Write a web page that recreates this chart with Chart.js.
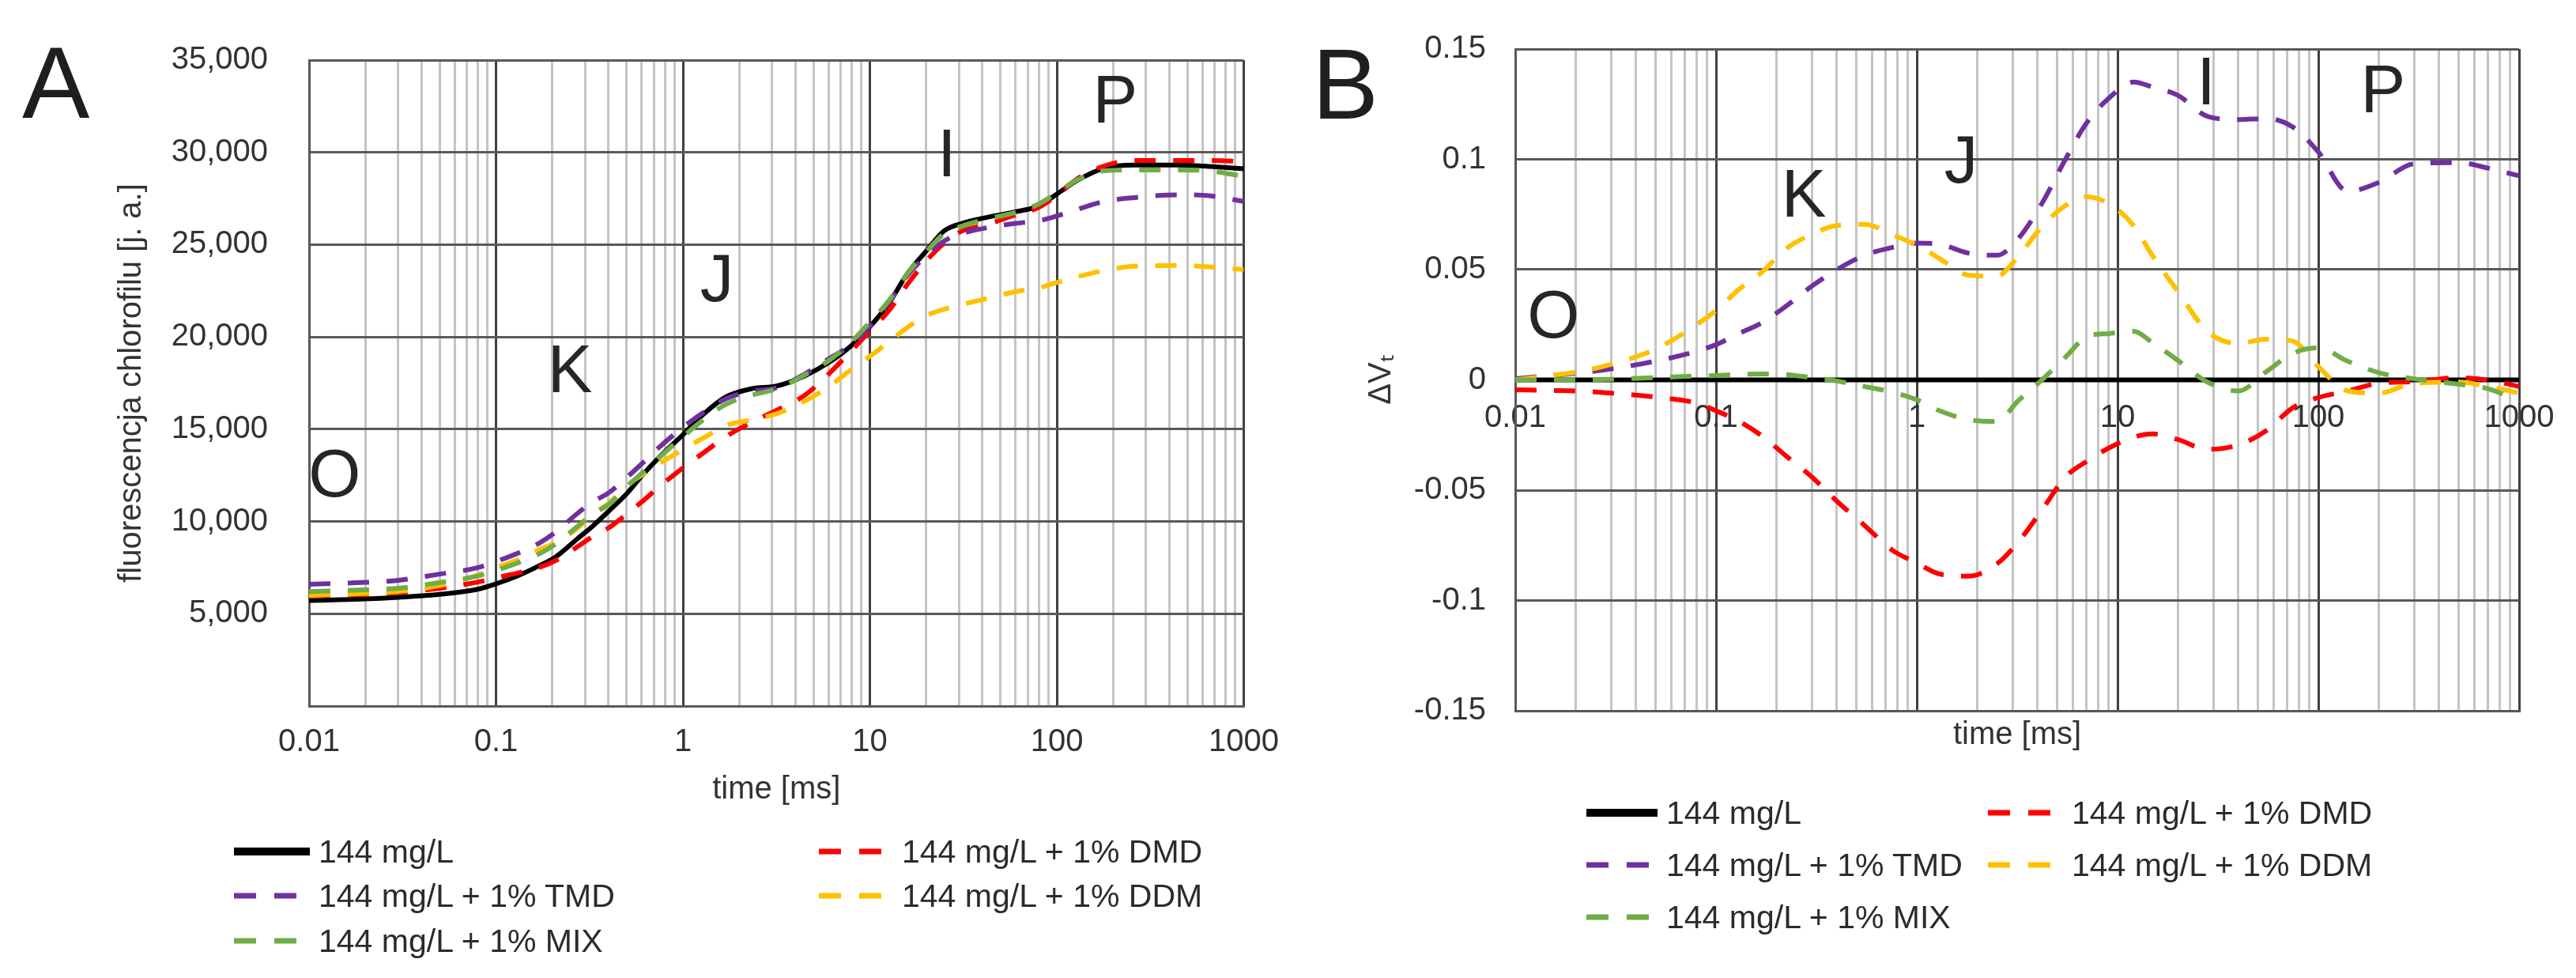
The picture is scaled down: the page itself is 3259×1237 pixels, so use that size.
<!DOCTYPE html>
<html>
<head>
<meta charset="utf-8">
<script src="https://cdn.jsdelivr.net/npm/chart.js@4.4.1/dist/chart.umd.min.js"></script>
<style>
  html, body { margin: 0; padding: 0; background: #fff; }
  #page { position: relative; width: 3259px; height: 1237px; overflow: hidden; font-family: "Liberation Sans", Arial, sans-serif; color: #333; }
  #page canvas { position: absolute; top: 0; }
  .panel { position: absolute; line-height: 1; color: #1f1f1f; }
  .leg { position: absolute; display: flex; align-items: center; height: 50px; font-size: 41px; white-space: nowrap; color: #2b2b2b; }
  .leg svg { flex: none; margin-right: 11px; }
</style>
</head>
<body>
<div id="page">
  <canvas id="graficoA" width="1640" height="1237" style="left:0"></canvas>
  <canvas id="graficoB" width="1609" height="1237" style="left:1650px"></canvas>
  <div class="panel" style="left:28px; top:41px; font-size:128px">A</div>
  <div class="panel" style="left:1660px; top:44px; font-size:126px">B</div>
</div>
<script>
// ---- datos ----
const series = ["144 mg/L", "144 mg/L + 1% DMD", "144 mg/L + 1% TMD", "144 mg/L + 1% DDM", "144 mg/L + 1% MIX"];
const colores = ["#000000", "#FF0000", "#7030A0", "#FFC000", "#70AD47"];

// panel A: fluorescencja [j. a.] vs time [ms]
const tiempoA = [0.01, 0.02, 0.03, 0.05, 0.08, 0.1, 0.13, 0.17, 0.21, 0.27, 0.33, 0.4, 0.5, 0.6, 0.75, 1, 1.3, 1.7, 2.3, 3.2,
  4.5, 6, 8, 10, 12.7, 15.8, 20, 25, 31, 41, 60, 80, 100, 128, 180, 260, 450, 650, 1000];
const controlA = [5720, 5800, 5890, 6050, 6330, 6620, 7050, 7600, 8100, 9030, 9760, 10550, 11500, 12450, 13500, 14700, 15850, 16750, 17180, 17350,
  17900, 18600, 19550, 20550, 21850, 23400, 24650, 25750, 26150, 26450, 26780, 27100, 27740, 28470, 29150, 29310, 29310, 29240, 29110];
const dmdA = [5970, 6050, 6150, 6380, 6720, 6950, 7200, 7500, 7900, 8600, 9200, 9650, 10400, 11050, 11900, 12900, 13750, 14600, 15350, 16050,
  16850, 17980, 19270, 20320, 21450, 22820, 24110, 25080, 25730, 26050, 26610, 27020, 27660, 28550, 29270, 29560, 29560, 29560, 29500];
const tmdA = [6600, 6700, 6810, 7150, 7500, 7830, 8270, 8820, 9450, 10400, 11060, 11550, 12380, 13110, 14040, 15100, 15940, 16650, 17050, 17250,
  18000, 18800, 19600, 20600, 21900, 23300, 24400, 25200, 25600, 25890, 26150, 26290, 26550, 26900, 27340, 27550, 27700, 27650, 27340];
const ddmA = [6000, 6100, 6210, 6530, 7100, 7500, 7900, 8470, 8870, 9600, 10400, 10970, 11940, 12500, 13150, 13900, 14550, 15200, 15500, 15850,
  16530, 17300, 18250, 18950, 19750, 20500, 21150, 21500, 21750, 22050, 22450, 22660, 22950, 23250, 23600, 23830, 23870, 23800, 23650];
const mixA = [6200, 6300, 6380, 6690, 7050, 7350, 7750, 8240, 8800, 9700, 10400, 10920, 11870, 12600, 13480, 14600, 15550, 16350, 16830, 17200,
  17950, 18700, 19750, 20800, 22000, 23400, 24600, 25600, 26000, 26350, 26750, 27200, 27800, 28500, 29000, 29050, 29050, 29000, 28700];

// panel B: delta Vt vs time [ms]
const tiempoB = [0.01, 0.015, 0.02, 0.03, 0.05, 0.08, 0.1, 0.13, 0.17, 0.22, 0.3, 0.4, 0.55, 0.75, 1, 1.3, 1.8, 2.5, 3.2,
  4.2, 5.5, 7, 9, 12, 15, 20, 28, 40, 55, 75, 100, 140, 200, 300, 500, 700, 1000];
const controlB = [0, 0, 0, 0, 0, 0, 0, 0, 0, 0, 0, 0, 0, 0, 0, 0, 0, 0, 0,
  0, 0, 0, 0, 0, 0, 0, 0, 0, 0, 0, 0, 0, 0, 0, 0, 0, 0];
const dmdB = [-0.0045, -0.0048, -0.005, -0.006, -0.0078, -0.0105, -0.014, -0.0187, -0.0255, -0.034, -0.044, -0.055, -0.066, -0.077, -0.083, -0.088, -0.089, -0.0835, -0.0735,
  -0.059, -0.044, -0.037, -0.031, -0.026, -0.0245, -0.027, -0.0315, -0.0295, -0.023, -0.0125, -0.008, -0.005, -0.0015, -0.0008, 0.001, 0.0, -0.003];
const tmdB = [0.0005, 0.002, 0.003, 0.005, 0.0085, 0.013, 0.016, 0.021, 0.026, 0.033, 0.0425, 0.05, 0.0565, 0.06, 0.062, 0.0615, 0.0575, 0.0565, 0.064,
  0.08, 0.1, 0.1164, 0.1275, 0.135, 0.1327, 0.129, 0.1195, 0.118, 0.1185, 0.1145, 0.1033, 0.0855, 0.0895, 0.098, 0.0985, 0.096, 0.0925];
const ddmB = [0.0, 0.002, 0.0035, 0.007, 0.014, 0.025, 0.0315, 0.041, 0.049, 0.059, 0.066, 0.07, 0.0705, 0.066, 0.061, 0.055, 0.0475, 0.047, 0.056,
  0.0695, 0.079, 0.083, 0.08, 0.07, 0.056, 0.04, 0.022, 0.0165, 0.0185, 0.0175, 0.006, -0.005, -0.006, -0.0015, -0.001, -0.003, -0.006];
const mixB = [0, 0, 0, 0.0003, 0.001, 0.0018, 0.002, 0.0025, 0.0027, 0.0025, 0.001, -0.0005, -0.003, -0.0055, -0.009, -0.014, -0.018, -0.0188, -0.0095,
  0.0, 0.0103, 0.0195, 0.021, 0.022, 0.0167, 0.0088, -0.001, -0.005, 0.0037, 0.0121, 0.0145, 0.0085, 0.0033, 0.0005, -0.002, -0.004, -0.0098];

// ejes
const decadas = [0.01, 0.1, 1, 10, 100, 1000];
const yTicksA = [0, 5000, 10000, 15000, 20000, 25000, 30000, 35000];
const yLabelsA = ["", "5,000", "10,000", "15,000", "20,000", "25,000", "30,000", "35,000"];
const yTicksB = [-0.15, -0.1, -0.05, 0, 0.05, 0.1, 0.15];
const yLabelsB = ["-0.15", "-0.1", "-0.05", "0", "0.05", "0.1", "0.15"];

// etykiety faz
const fases = ["O", "K", "J", "I", "P"];
const faseTA = [0.0137, 0.249, 1.52, 25.8, 205];
const faseVA = [12340, 18010, 22950, 29720, 32630];
const faseTB = [0.0155, 0.2735, 1.66, 27.6, 210];
const faseVB = [0.0276, 0.0824, 0.0978, 0.1333, 0.1297];

// ---- chart ----
Chart.defaults.font.family = '"Liberation Sans", Arial, sans-serif';
Chart.defaults.color = "#333";

const fuente = { size: 40 };
const ticksLog = [];
decadas.forEach((d) => {
  for (let m = 1; m <= 9; m++) {
    if (d * m <= 1000) ticksLog.push(m === 1 ? d : +(d * m).toPrecision(3));
  }
});
const esDecada = (v) => decadas.includes(v);

const rejillaLog = {
  color: (c) => (c.tick && esDecada(c.tick.value) ? "#404040" : "#c4c4c4"),
  lineWidth: 3,
  drawTicks: false,
};
const borde = { color: "#595959", width: 3 };

const letras = {
  id: "letras",
  afterDraw(chart, args, opts) {
    const { ctx } = chart;
    const x = chart.scales.x, y = chart.scales.y;
    ctx.save();
    ctx.font = '85px "Liberation Sans", Arial, sans-serif';
    ctx.fillStyle = "#262626";
    ctx.textAlign = "center";
    ctx.textBaseline = "middle";
    opts.labels.forEach((txt, i) => {
      ctx.fillText(txt, x.getPixelForValue(opts.t[i]), y.getPixelForValue(opts.v[i]));
    });
    ctx.restore();
  },
};

const datasets = (tiempo, valores) =>
  valores.map((vals, i) => ({
    label: series[i],
    data: tiempo.map((t, k) => ({ x: t, y: vals[k] })),
    borderColor: colores[i],
    backgroundColor: colores[i],
    borderWidth: 6,
    borderDash: i === 0 ? [] : [27, 22],
    pointRadius: 0,
    fill: false,
    cubicInterpolationMode: "monotone",
    order: valores.length - 1 - i,
  }));

const graficoA = new Chart(document.getElementById("graficoA"), {
  type: "line",
  data: { datasets: datasets(tiempoA, [controlA, dmdA, tmdA, ddmA, mixA]) },
  plugins: [letras],
  options: {
    responsive: false,
    animation: false,
    devicePixelRatio: 1,
    layout: { padding: { left: 0, right: 50, top: 65, bottom: 204 } },
    plugins: {
      legend: { display: false },
      tooltip: { enabled: false },
      letras: { labels: fases, t: faseTA, v: faseVA },
    },
    scales: {
      x: {
        type: "logarithmic",
        min: 0.01,
        max: 1000,
        afterBuildTicks: (ax) => { ax.ticks = ticksLog.map((v) => ({ value: v })); },
        afterFit: (ax) => { ax.height = 140; },
        ticks: { autoSkip: false, maxRotation: 0, padding: 22, font: fuente, callback: (v) => (esDecada(v) ? String(v) : "") },
        grid: rejillaLog,
        border: borde,
        title: { display: true, text: "time [ms]", font: fuente, padding: { top: 0, bottom: 10 } },
      },
      y: {
        min: 0,
        max: 35000,
        afterBuildTicks: (ax) => { ax.ticks = yTicksA.map((v) => ({ value: v })); },
        afterFit: (ax) => { ax.width = 391; },
        ticks: { padding: 52, font: fuente, callback: (v, i) => yLabelsA[i] },
        grid: { color: "#595959", lineWidth: 3, drawTicks: false },
        border: borde,
        title: { display: true, text: "fluorescencja chlorofilu [j. a.]", font: fuente, padding: { top: 143, bottom: 0 } },
      },
    },
  },
});

const graficoB = new Chart(document.getElementById("graficoB"), {
  type: "line",
  data: { datasets: datasets(tiempoB, [controlB, dmdB, tmdB, ddmB, mixB]) },
  plugins: [letras],
  options: {
    responsive: false,
    animation: false,
    devicePixelRatio: 1,
    layout: { padding: { left: 0, right: 72, top: 62, bottom: 258 } },
    plugins: {
      legend: { display: false },
      tooltip: { enabled: false },
      letras: { labels: fases, t: faseTB, v: faseVB },
    },
    scales: {
      x: {
        type: "logarithmic",
        min: 0.01,
        max: 1000,
        afterBuildTicks: (ax) => { ax.ticks = ticksLog.map((v) => ({ value: v })); },
        afterFit: (ax) => { ax.height = 80; },
        ticks: { display: false },
        grid: rejillaLog,
        border: borde,
        title: { display: true, text: "time [ms]", font: fuente, padding: { top: 0, bottom: 25 } },
      },
      x2: {
        axis: "x",
        type: "logarithmic",
        position: { y: 0 },
        min: 0.01,
        max: 1000,
        afterBuildTicks: (ax) => { ax.ticks = decadas.map((v) => ({ value: v })); },
        ticks: { autoSkip: false, maxRotation: 0, padding: 24, font: fuente, callback: (v) => String(v) },
        grid: { display: false, drawTicks: false },
        border: { display: false },
      },
      y: {
        min: -0.15,
        max: 0.15,
        afterBuildTicks: (ax) => { ax.ticks = yTicksB.map((v) => ({ value: v })); },
        afterFit: (ax) => { ax.width = 267; },
        ticks: { padding: 37, font: fuente, callback: (v, i) => yLabelsB[i] },
        grid: { color: "#595959", lineWidth: 3, drawTicks: false },
        border: borde,
        title: { display: true, text: "ΔVₜ", font: fuente, padding: { top: 74, bottom: 0 } },
      },
    },
  },
});

// leyenda HTML (2 columnas, como en el original)
const leyenda = (chart, filas, muestraX, textoX) => {
  const page = document.getElementById("page");
  chart.data.datasets.forEach((ds, i) => {
    const fila = Math.floor(i / 2), col = i % 2;
    const w = textoX[col] - muestraX[col] - 11;
    const dash = ds.borderDash.length ? 'stroke-dasharray="28 23"' : "";
    const grosor = ds.borderDash.length ? 7 : 10;
    const item = document.createElement("div");
    item.className = "leg";
    item.style.left = muestraX[col] + "px";
    item.style.top = filas[fila] - 25 + "px";
    item.innerHTML = `<svg width="${w}" height="12"><line x1="0" y1="6" x2="${w}" y2="6" stroke="${ds.borderColor}" stroke-width="${grosor}" ${dash}/></svg><span>${ds.label}</span>`;
    page.appendChild(item);
  });
};
leyenda(graficoA, [1077, 1133, 1190], [296, 1036], [403, 1141]);
leyenda(graficoB, [1028, 1094, 1160], [2007, 2515], [2108, 2621]);
</script>
</body>
</html>
